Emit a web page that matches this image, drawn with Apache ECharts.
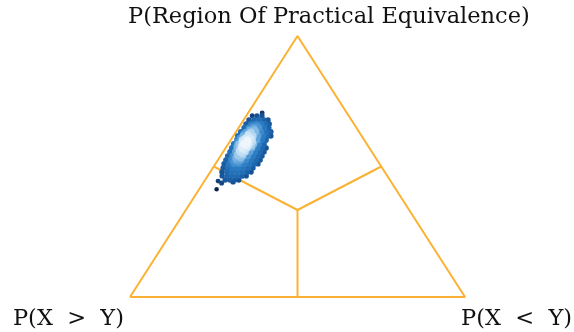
<!DOCTYPE html>
<html>
<head>
<meta charset="utf-8">
<script src="https://cdn.jsdelivr.net/npm/echarts@6/dist/echarts.min.js"></script>
<style>
  html, body { margin: 0; background: #fff; }
  #chart { width: 574px; height: 332px; }
</style>
</head>
<body>
<div id="chart"></div>
<script>
// posterior samples, each [P(rope), P(X<Y)]; P(X>Y) is what is left
const samples = [
  [0.694, 0.018], [0.694, 0.032], [0.694, 0.047],
  [0.678, 0.016], [0.678, 0.031], [0.678, 0.046], [0.678, 0.061], [0.678, 0.073],
  [0.663, 0.015], [0.663, 0.030], [0.663, 0.045], [0.663, 0.060], [0.663, 0.072], [0.663, 0.084],
  [0.648, 0.017], [0.648, 0.031], [0.648, 0.046], [0.648, 0.061], [0.648, 0.076], [0.648, 0.090],
  [0.632, 0.015], [0.632, 0.030], [0.632, 0.045], [0.632, 0.060], [0.632, 0.075], [0.632, 0.090], [0.632, 0.099],
  [0.617, 0.014], [0.617, 0.029], [0.617, 0.044], [0.617, 0.059], [0.617, 0.074], [0.617, 0.089], [0.617, 0.101],
  [0.602, 0.019], [0.602, 0.034], [0.602, 0.049], [0.602, 0.063], [0.602, 0.078], [0.602, 0.093], [0.602, 0.105],
  [0.586, 0.017], [0.586, 0.032], [0.586, 0.047], [0.586, 0.062], [0.586, 0.077], [0.586, 0.092], [0.586, 0.107],
  [0.571, 0.019], [0.571, 0.034], [0.571, 0.049], [0.571, 0.064], [0.571, 0.079], [0.571, 0.094], [0.571, 0.109], [0.571, 0.121],
  [0.556, 0.021], [0.556, 0.036], [0.556, 0.051], [0.556, 0.066], [0.556, 0.080], [0.556, 0.095], [0.556, 0.110], [0.556, 0.122],
  [0.540, 0.022], [0.540, 0.037], [0.540, 0.052], [0.540, 0.067], [0.540, 0.082], [0.540, 0.097], [0.540, 0.112], [0.540, 0.124],
  [0.525, 0.024], [0.525, 0.039], [0.525, 0.054], [0.525, 0.069], [0.525, 0.084], [0.525, 0.099], [0.525, 0.114], [0.525, 0.126],
  [0.510, 0.026], [0.510, 0.041], [0.510, 0.056], [0.510, 0.071], [0.510, 0.086], [0.510, 0.100], [0.510, 0.115], [0.510, 0.127],
  [0.494, 0.031], [0.494, 0.045], [0.494, 0.060], [0.494, 0.075], [0.494, 0.090], [0.494, 0.105], [0.494, 0.120],
  [0.479, 0.035], [0.479, 0.050], [0.479, 0.065], [0.479, 0.080], [0.479, 0.095], [0.479, 0.110], [0.479, 0.122],
  [0.464, 0.043], [0.464, 0.058], [0.464, 0.073], [0.464, 0.088], [0.464, 0.103], [0.464, 0.115],
  [0.448, 0.060], [0.448, 0.074], [0.448, 0.089], [0.448, 0.101],
  // the busy middle
  [0.655, 0.038], [0.655, 0.053],
  [0.640, 0.037], [0.640, 0.052],
  [0.624, 0.027], [0.624, 0.041],
  [0.609, 0.025], [0.609, 0.040], [0.609, 0.055],
  [0.594, 0.024], [0.594, 0.039], [0.594, 0.054], [0.594, 0.069],
  [0.579, 0.029], [0.579, 0.044], [0.579, 0.059], [0.579, 0.073],
  [0.563, 0.045], [0.563, 0.060],
  [0.548, 0.047], [0.548, 0.062],
  [0.533, 0.049], [0.533, 0.064],
  [0.517, 0.050], [0.517, 0.065],
  // stray draws
  [0.413, 0.052], [0.444, 0.041], [0.437, 0.055], [0.441, 0.087],
  [0.633, 0.104], [0.617, 0.112], [0.705, 0.042]
];

const cornerNames = ['P(X  >  Y)', 'P(Region Of Practical Equivalence)', 'P(X  <  Y)'];

// simplex corners, centre and edge midpoints as [P(X>Y), P(rope), P(X<Y)]
const corners = [[1, 0, 0], [0, 1, 0], [0, 0, 1]];
const centre = [1 / 3, 1 / 3, 1 / 3];
const midpoints = [[0.5, 0, 0.5], [0.5, 0.5, 0], [0, 0.5, 0.5]];

const orange = '#fbb234';

function toXY(p) {
  return [p[2] + p[1] / 2, p[1]];
}

// colour the samples by a simple gaussian kde, like the original plot
const bw = 0.022;
const pts = samples.map(function (s) {
  let d = 0;
  samples.forEach(function (o) {
    const dr = s[1] - o[1], dt = s[0] - o[0];
    d += Math.exp(-(dr * dr + dt * dt) / (2 * bw * bw));
  });
  const xy = toXY([1 - s[0] - s[1], s[0], s[1]]);
  return [xy[0], xy[1], d];
});
pts.sort(function (a, b) { return a[2] - b[2]; });
const dMin = pts[0][2], dMax = pts[pts.length - 1][2];

function segment(a, b) {
  return {
    type: 'line',
    data: [toXY(a), toXY(b)],
    symbol: 'none',
    silent: true,
    lineStyle: { color: orange, width: 2 },
    z: 1
  };
}

const chart = echarts.init(document.getElementById('chart'));
chart.setOption({
  animation: false,
  grid: { left: 130, right: 109, top: 36, bottom: 35 },
  xAxis: { type: 'value', min: 0, max: 1, show: false },
  yAxis: { type: 'value', min: 0, max: 1, show: false },
  visualMap: {
    show: false,
    type: 'continuous',
    dimension: 2,
    min: dMin,
    max: dMax,
    seriesIndex: 4,
    inRange: {
      color: ['#0b244e', '#10376b', '#154b89', '#1a5ba0', '#1f68b0', '#2675bd',
              '#3586c9', '#63a5dc', '#b5d8f2', '#eef6fd']
    }
  },
  series: [
    {
      type: 'line',
      data: corners.concat([corners[0]]).map(toXY),
      symbol: 'none',
      silent: true,
      lineStyle: { color: orange, width: 2 },
      z: 1
    },
    segment(centre, midpoints[0]),
    segment(centre, midpoints[1]),
    segment(centre, midpoints[2]),
    {
      type: 'scatter',
      data: pts,
      symbolSize: function (v) {
        return 4.5 + 3 * (v[2] - dMin) / (dMax - dMin);
      },
      itemStyle: { opacity: 1 },
      z: 3
    }
  ],
  graphic: [
    {
      type: 'text', x: 124, y: 319,
      style: { text: cornerNames[0], font: '22.5px "DejaVu Serif"', fill: '#111', align: 'right', verticalAlign: 'middle' }
    },
    {
      type: 'text', x: 128, y: 17,
      style: { text: cornerNames[1], font: '22.5px "DejaVu Serif"', fill: '#111', align: 'left', verticalAlign: 'middle' }
    },
    {
      type: 'text', x: 461, y: 319,
      style: { text: cornerNames[2], font: '22.5px "DejaVu Serif"', fill: '#111', align: 'left', verticalAlign: 'middle' }
    }
  ]
});
</script>
</body>
</html>
